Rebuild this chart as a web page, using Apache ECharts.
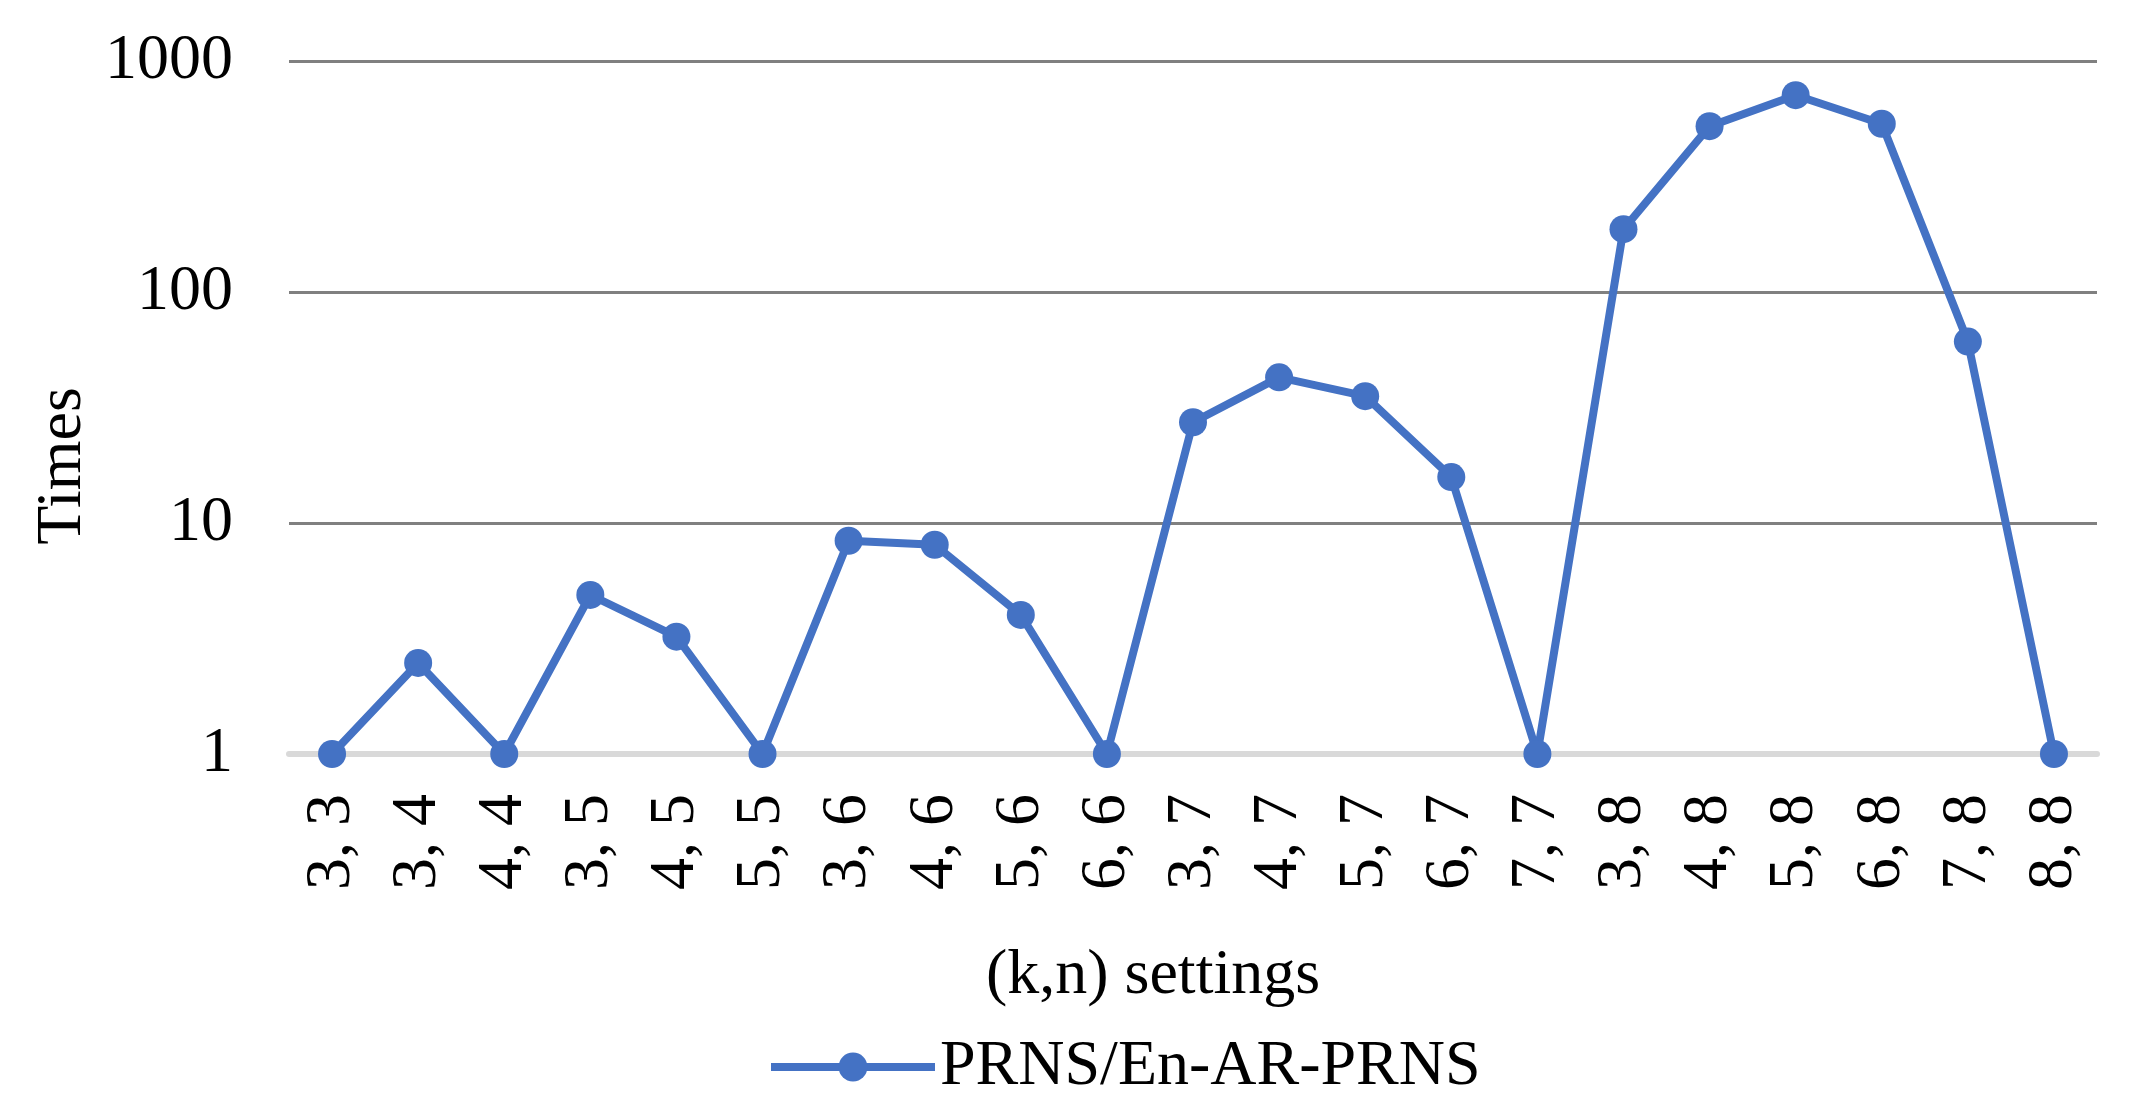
<!DOCTYPE html>
<html>
<head>
<meta charset="utf-8">
<script src="https://cdn.jsdelivr.net/npm/echarts@6/dist/echarts.min.js"></script>
<style>
  html, body { margin: 0; padding: 0; background: #fff; }
  #chart { width: 2135px; height: 1113px; }
</style>
</head>
<body>
<div id="chart"></div>
<script>
  // (k,n) settings on the x axis
  const categories = ['3, 3', '3, 4', '4, 4', '3, 5', '4, 5', '5, 5', '3, 6', '4, 6', '5, 6', '6, 6',
    '3, 7', '4, 7', '5, 7', '6, 7', '7, 7', '3, 8', '4, 8', '5, 8', '6, 8', '7, 8', '8, 8']
  // PRNS / En-AR-PRNS ratio
  const ratioValues = [1, 2.48, 1, 4.88, 3.22, 1, 8.38, 8.05, 4.0, 1,
    27.3, 42.7, 35.4, 15.8, 1, 187, 522, 711, 535, 61.0, 1]
  const yTicks = [1, 10, 100, 1000]
  const seriesName = 'PRNS/En-AR-PRNS'

  const blue = '#4472c4'
  const font = '"Liberation Serif", "Times New Roman", serif'

  let chart = echarts.init(document.getElementById('chart'))
  let option = {
    animation: false,
    textStyle: { fontFamily: font, color: '#000' },
    grid: {
      left: 289,
      right: 38,
      top: 61,
      bottom: 359,
      containLabel: false
    },
    // y axis title sits a bit below the axis middle in the original
    graphic: [{
      type: 'text',
      x: 63,
      y: 466,
      rotation: Math.PI / 2,
      style: {
        text: 'Times',
        fontFamily: font,
        fontSize: 64,
        fill: '#000',
        align: 'center',
        verticalAlign: 'middle'
      }
    }],
    legend: {
      data: [seriesName],
      left: 762,
      top: 1030,
      itemWidth: 164,
      itemHeight: 36,
      itemGap: 10,
      lineStyle: { width: 8 },
      textStyle: { fontFamily: font, fontSize: 64, color: '#000' }
    },
    xAxis: {
      type: 'category',
      boundaryGap: true,
      data: categories,
      name: '(k,n) settings',
      nameLocation: 'middle',
      nameGap: 190,
      nameTextStyle: { fontFamily: font, fontSize: 64, color: '#000', padding: [0, 80, 0, 0] },
      axisLine: { show: true, lineStyle: { color: '#d9d9d9', width: 6 } },
      axisTick: { show: false },
      axisLabel: {
        rotate: 90,
        margin: 40,
        interval: 0,
        fontFamily: font,
        fontSize: 64,
        color: '#000'
      }
    },
    yAxis: {
      type: 'log',
      logBase: 10,
      min: yTicks[0],
      max: yTicks[yTicks.length - 1],
      axisLine: { show: false },
      axisTick: { show: false },
      splitLine: { show: true, lineStyle: { color: '#808080', width: 3 } },
      axisLabel: {
        margin: 56,
        fontFamily: font,
        fontSize: 64,
        color: '#000',
        formatter: (v) => String(Math.round(v))
      }
    },
    series: [{
      name: seriesName,
      type: 'line',
      data: ratioValues,
      symbol: 'circle',
      symbolSize: 28,
      lineStyle: { color: blue, width: 8 },
      itemStyle: { color: blue }
    }]
  }
  chart.setOption(option)
</script>
</body>
</html>
